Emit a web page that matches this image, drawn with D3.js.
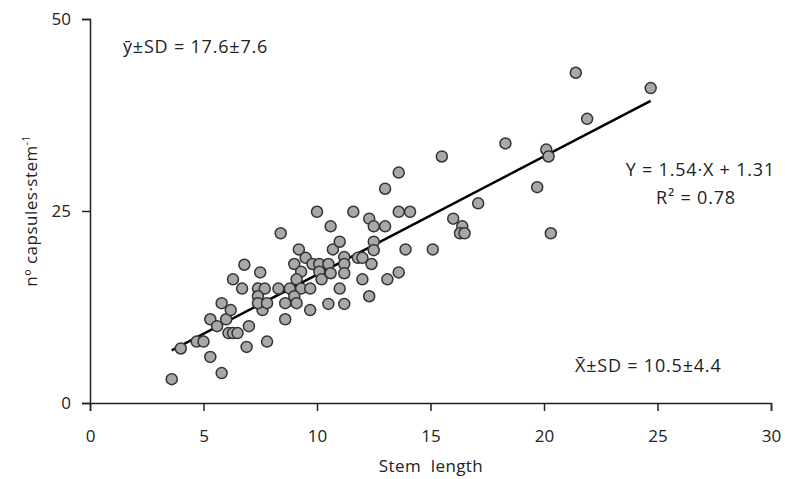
<!DOCTYPE html>
<html>
<head>
<meta charset="utf-8">
<script src="https://cdn.jsdelivr.net/npm/d3@7"></script>
<style>
  body { margin: 0; background: #fff; }
  svg text { font-family: "Open Sans", "Liberation Sans", sans-serif; fill: #222; }
</style>
</head>
<body>
<svg width="785" height="479"></svg>
<script>
// stem length (x) and number of capsules per stem (y)
var stemLength = [3.6, 4.0, 4.7, 5.0, 5.3, 5.8, 5.3, 5.6, 5.8, 6.0, 6.1, 6.3, 6.5,
  10.0, 11.6, 8.4, 10.6, 12.3, 12.5, 13.0, 13.6, 14.1, 13.0, 6.8, 7.5, 6.3, 6.7,
  7.4, 7.7, 7.4, 7.6, 8.3, 8.8, 9.2, 9.5, 9.0, 9.3, 9.8, 10.1, 10.5, 10.1, 10.2,
  10.6, 10.7, 11.0, 11.2, 11.2, 11.2, 9.1, 9.3, 9.7, 9.0, 8.6, 9.1, 9.7, 8.6,
  10.5, 11.2, 11.0, 11.8, 12.0, 12.4, 12.5, 12.5, 12.0, 12.3, 13.1, 13.6, 13.9,
  15.1, 7.0, 7.8, 6.9, 6.2, 7.4, 7.8,
  21.4, 24.7, 21.9, 18.3, 20.1, 20.2, 15.5, 13.6, 19.7, 17.1, 16.0, 16.4, 16.3,
  16.5, 20.3];
var capsules = [3.1, 7.1, 8.0, 8.0, 6.0, 3.9, 10.9, 10.0, 13.0, 10.9, 9.1, 9.1, 9.1,
  24.9, 24.9, 22.1, 23.0, 24.0, 23.0, 23.0, 24.9, 24.9, 27.9, 18.0, 17.0, 16.1, 14.9,
  14.9, 14.9, 13.9, 12.1, 14.9, 14.9, 20.0, 18.9, 18.1, 17.1, 18.1, 18.1, 18.1, 17.1, 16.1,
  16.9, 20.0, 21.0, 19.0, 18.1, 16.9, 16.1, 14.9, 14.9, 13.9, 13.0, 13.0, 12.1, 10.9,
  12.9, 12.9, 14.9, 18.9, 18.9, 18.1, 21.0, 19.9, 16.1, 13.9, 16.1, 17.0, 20.0,
  20.0, 10.0, 8.0, 7.3, 12.1, 13.0, 13.0,
  43.0, 41.0, 37.0, 33.8, 33.0, 32.1, 32.1, 30.0, 28.1, 26.0, 24.0, 23.0, 22.1,
  22.1, 22.1];

var xTicks = [0, 5, 10, 15, 20, 25, 30];
var yTicks = [0, 25, 50];

var slope = 1.54, intercept = 1.31;
var fitText = "Y = 1.54\u00b7X + 1.31";
var r2Text = "R\u00b2 = 0.78";
var yStats = "y\u0304\u00b1SD = 17.6\u00b17.6";
var xStats = "X\u0304\u00b1SD = 10.5\u00b14.4";

var svg = d3.select("svg");
var plotL = 90, plotR = 771, plotT = 19, plotB = 403;

var x = d3.scaleLinear().domain([0, 30]).range([plotL, plotR]);
var y = d3.scaleLinear().domain([0, 50]).range([plotB, plotT]);

var xAxis = svg.append("g")
  .attr("transform", "translate(0," + plotB + ")")
  .call(d3.axisBottom(x).tickValues(xTicks).tickSize(8).tickPadding(19));
var yAxis = svg.append("g")
  .attr("transform", "translate(" + plotL + ",0)")
  .call(d3.axisLeft(y).tickValues(yTicks).tickSize(8).tickPadding(11));

[xAxis, yAxis].forEach(function(a) {
  a.select(".domain").attr("stroke", "#222").attr("stroke-width", 1.5);
  a.selectAll(".tick line").attr("stroke", "#222").attr("stroke-width", 1.5);
  a.selectAll(".tick text").attr("font-size", 17).attr("fill", "#222")
    .style("font-family", "Open Sans, Liberation Sans, sans-serif");
});

// regression line over the range of the data
var x0 = d3.min(stemLength), x1 = d3.max(stemLength);
svg.append("line")
  .attr("x1", x(x0)).attr("y1", y(slope * x0 + intercept))
  .attr("x2", x(x1)).attr("y2", y(slope * x1 + intercept))
  .attr("stroke", "#000").attr("stroke-width", 2.5);

svg.selectAll("circle.pt")
  .data(stemLength)
  .enter()
  .append("circle")
  .attr("class", "pt")
  .attr("cx", function(d) { return x(d); })
  .attr("cy", function(d, i) { return y(capsules[i]); })
  .attr("r", 5.5)
  .attr("fill", "#a8a8a8")
  .attr("stroke", "#333")
  .attr("stroke-width", 1.5);

// axis titles
svg.append("text")
  .attr("x", 431).attr("y", 472)
  .attr("text-anchor", "middle").attr("font-size", 17)
  .attr("letter-spacing", 0.4)
  .text("Stem\u00a0\u00a0length");

var yl = svg.append("text")
  .attr("transform", "translate(37,211) rotate(-90)")
  .attr("text-anchor", "middle").attr("font-size", 17)
  .attr("letter-spacing", 0.5);
yl.append("tspan").text("n\u00ba capsules\u00b7stem");
yl.append("tspan").attr("font-size", 10).attr("dy", -7).text("-1");

// annotations
var note = function(tx, ty, anchor, s) {
  svg.append("text").attr("x", tx).attr("y", ty)
    .attr("text-anchor", anchor)
    .attr("font-size", 18).attr("letter-spacing", 0.8)
    .text(s);
};
note(123, 53, "start", yStats);
note(775, 176, "end", fitText);
note(696, 204, "middle", r2Text);
note(575, 372, "start", xStats);
</script>
</body>
</html>
